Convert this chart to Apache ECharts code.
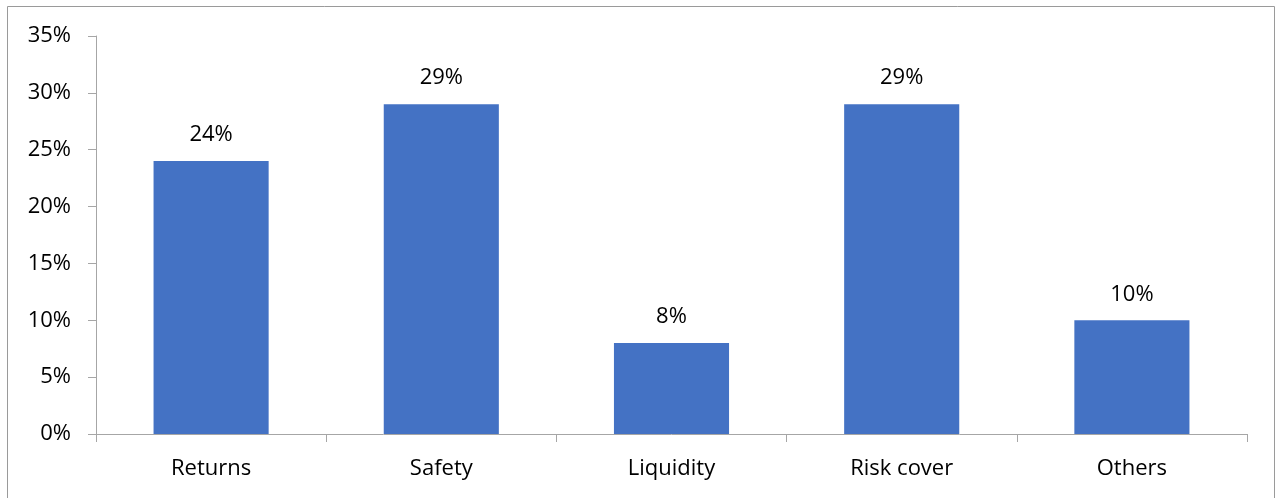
<!DOCTYPE html>
<html>
<head>
<meta charset="utf-8">
<script src="https://cdn.jsdelivr.net/npm/echarts@6/dist/echarts.min.js"></script>
<style>
  html, body { margin: 0; padding: 0; background: #fff; }
  #chart { width: 1279px; height: 498px; }
</style>
</head>
<body>
<div id="chart"></div>
<script>
// Share of respondents by primary investment objective (%)
const categories = ['Returns', 'Safety', 'Liquidity', 'Risk cover', 'Others'];
const shares = [24, 29, 8, 29, 10];
const yTicks = { min: 0, max: 35, step: 5 };

const FONT = '"Open Sans", "Liberation Sans", sans-serif';
const AXIS_COLOR = '#a6a6a6';

const chart = echarts.init(document.getElementById('chart'), null, { renderer: 'canvas' });
chart.setOption({
  animation: false,
  backgroundColor: '#ffffff',
  graphic: [{
    type: 'rect',
    shape: { x: 7.5, y: 6.5, width: 1267, height: 520 },
    style: { fill: 'none', stroke: '#9a9a9a', lineWidth: 1 },
    silent: true
  }],
  grid: { left: 96, right: 32, top: 36, bottom: 64, containLabel: false },
  xAxis: {
    type: 'category',
    data: categories,
    boundaryGap: true,
    axisLine: { show: true, lineStyle: { color: AXIS_COLOR, width: 1 } },
    axisTick: { show: true, length: 8, alignWithLabel: false, lineStyle: { color: AXIS_COLOR } },
    axisLabel: { color: '#000', fontFamily: FONT, fontSize: 22, margin: 24 },
    splitLine: { show: false }
  },
  yAxis: {
    type: 'value',
    min: yTicks.min,
    max: yTicks.max,
    interval: yTicks.step,
    axisLine: { show: true, lineStyle: { color: AXIS_COLOR, width: 1 } },
    axisTick: { show: true, length: 8, lineStyle: { color: AXIS_COLOR } },
    axisLabel: { color: '#000', fontFamily: FONT, fontSize: 22, margin: 25, formatter: '{value}%' },
    splitLine: { show: false }
  },
  series: [{
    type: 'bar',
    data: shares,
    barWidth: '50%',
    itemStyle: { color: '#4472c4' },
    label: {
      show: true,
      position: 'top',
      distance: 15,
      color: '#000',
      fontFamily: FONT,
      fontSize: 22,
      formatter: '{c}%'
    }
  }]
});
</script>
</body>
</html>
